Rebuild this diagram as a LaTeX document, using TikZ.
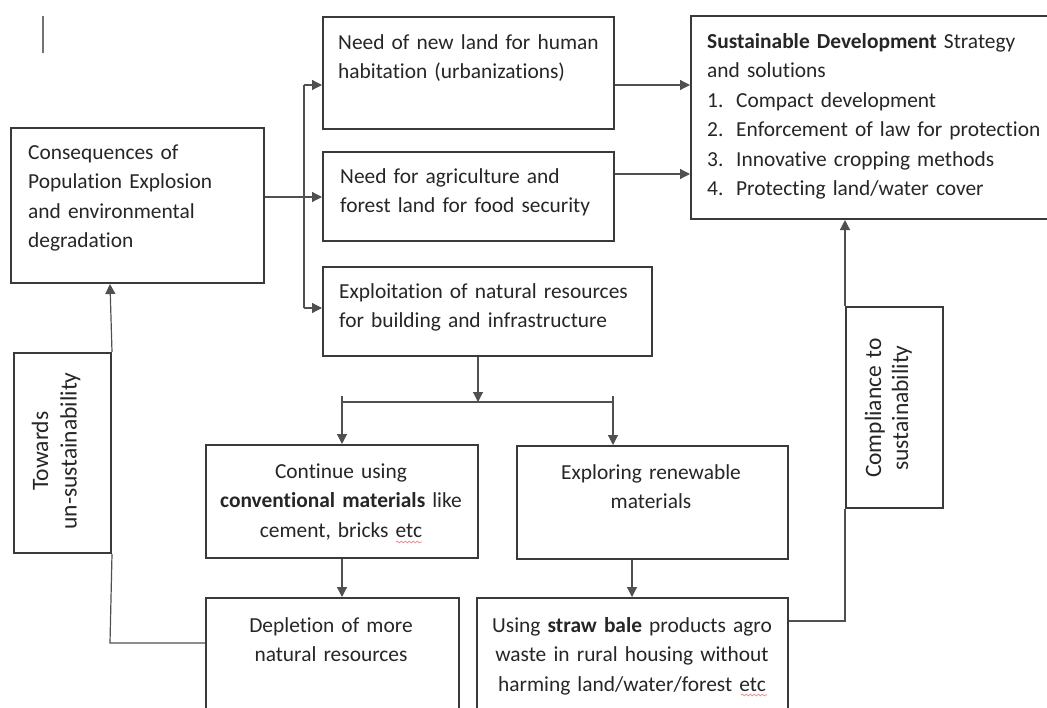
\documentclass[tikz,border=0pt]{standalone}
\usepackage{fontspec}
\setmainfont{Carlito}[Ligatures=NoCommon]
\usetikzlibrary{arrows.meta,calc,decorations.pathmorphing}
\definecolor{boxc}{HTML}{3A3A3A}
\definecolor{linec}{HTML}{505050}
\definecolor{txtc}{HTML}{262626}
\definecolor{spell}{HTML}{E89090}
\begin{document}
\begin{tikzpicture}[x=1pt,y=-1pt,
  box/.style={draw=boxc, line width=2pt, inner sep=0pt, anchor=north west},
  txt/.style={font=\fontsize{21.4}{29.5}\selectfont, text=txtc, inner sep=0pt},
  ltxt/.style={txt, text width=420pt, align=left, anchor=base west},
  ctxt/.style={txt, text width=300pt, align=center, anchor=base},
  rtxt/.style={font=\fontsize{23.5}{28.5}\selectfont, text=txtc, inner sep=0pt, rotate=90, text width=200pt, align=center, anchor=base},
  conn/.style={draw=linec, line width=1.2pt},
  arr/.style={conn, -{Triangle[length=10pt,width=10pt]}},
  squig/.style={draw=spell, line width=0.8pt, decorate, decoration={snake, amplitude=0.8pt, segment length=4pt}}
]
\fill[white] (0,0) rectangle (1047,707);
\useasboundingbox (0,0) rectangle (1047,707);

% stray mark
\draw[line width=1.5pt, draw=black!55] (43,16) -- (43,53);

% boxes
\node[box, minimum width=253pt, minimum height=155pt] (cons) at (10,127) {};
\node[box, minimum width=291pt, minimum height=112pt] (new) at (322,16) {};
\node[box, minimum width=291pt, minimum height=89pt] (agri) at (322,151) {};
\node[box, minimum width=329pt, minimum height=89pt] (expl) at (322,266) {};
\node[box, minimum width=365pt, minimum height=203pt] (sd) at (690,15) {};
\node[box, minimum width=97pt, minimum height=200pt] (tow) at (13,352) {};
\node[box, minimum width=272pt, minimum height=113pt] (cont) at (205,444) {};
\node[box, minimum width=271pt, minimum height=113pt] (expo) at (516,445) {};
\node[box, minimum width=253pt, minimum height=120pt] (depl) at (205,597) {};
\node[box, minimum width=311pt, minimum height=120pt] (using) at (476,597) {};
\node[box, minimum width=97pt, minimum height=201pt] (comp) at (845,306) {};

% texts
\node[ltxt] (cons-t) at (28,159) {Consequences of\\Population Explosion\\and environmental\\degradation};
\node[ltxt] (new-t) at (338,49) {Need of new land for human\\habitation (urbanizations)};
\node[ltxt] (agri-t) at (340,183) {Need for agriculture and\\forest land for food security};
\node[ltxt] (expl-t) at (339,298) {Exploitation of natural resources\\for building and infrastructure};
\node[ltxt] (sd-t) at (707,48) {\textbf{Sustainable Development} Strategy\\and solutions\\\makebox[29pt][l]{1.}Compact development\\\makebox[29pt][l]{2.}Enforcement of law for protection\\\makebox[29pt][l]{3.}Innovative cropping methods\\\makebox[29pt][l]{4.}Protecting land/water cover};
\node[ctxt] (cont-t) at (341,478) {Continue using\\\textbf{conventional materials} like\\cement, bricks etc};
\node[ctxt] (expo-t) at (651,479) {Exploring renewable\\materials};
\node[ctxt] (depl-t) at (331,632) {Depletion of more\\natural resources};
\node[ctxt] (using-t) at (632,632) {Using \textbf{straw bale} products agro\\waste in rural housing without\\harming land/water/forest etc};
\node[rtxt] (tow-t) at (48,451) {Towards\\un-sustainability};
\node[rtxt, font=\fontsize{23.5}{27}\selectfont] (comp-t) at (881,408) {Compliance to\\sustainability};

% spell-check marks under "etc"
\draw[squig] (396,542) -- (422,542);
\draw[squig] (741,695) -- (767,695);

% junction coordinates
\coordinate (jt) at (304,85);
\coordinate (jm) at (304,197);
\coordinate (jb) at (304,308);
\coordinate (ya) at (0,174);
\coordinate (sp) at (478,402);
\coordinate (hl) at (342,402);
\coordinate (hr) at (613,402);
\coordinate (hlt) at (342,396);
\coordinate (hrt) at (613,396);
\coordinate (xu) at (632,0);
\coordinate (dl) at (110,643);
\coordinate (ur) at (845,621);

% connectors
\draw[conn] (cons.east |- jm) -- (jm);
\draw[conn] (jt) -- (jb);
\draw[arr] (jt) -- (new.west |- jt);
\draw[arr] (jm) -- (agri.west |- jm);
\draw[arr] (jb) -- (expl.west |- jb);
\draw[arr] (new.east |- jt) -- (sd.west |- jt);
\draw[arr] (agri.east |- ya) -- (sd.west |- ya);
\draw[arr] (expl.south -| sp) -- (sp);
\draw[conn] (hl) -- (hr);
\draw[arr] (hlt) -- (cont.north -| hlt);
\draw[arr] (hrt) -- (expo.north -| hrt);
\draw[arr] (cont.south -| hl) -- (depl.north -| hl);
\draw[arr] (expo.south -| xu) -- (using.north -| xu);
\draw[conn] (depl.west |- dl) -- (dl) -- (tow.south east);
\draw[arr] (tow.north east) -- (cons.south -| dl);
\draw[conn] (using.east |- ur) -- (ur) -- (comp.south west);
\draw[arr] (comp.north west) -- (sd.south -| comp.north west);
\end{tikzpicture}
\end{document}
